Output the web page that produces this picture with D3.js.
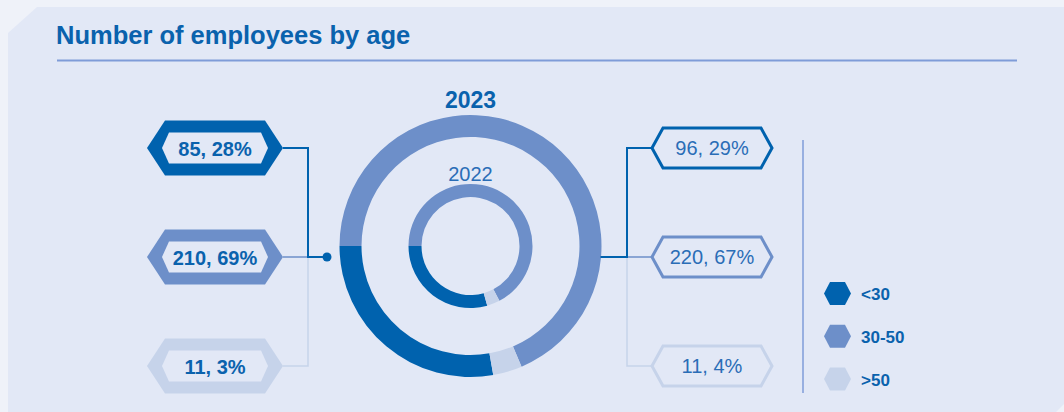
<!DOCTYPE html>
<html>
<head>
<meta charset="utf-8">
<script src="https://cdn.jsdelivr.net/npm/d3@7"></script>
<style>
  body { margin: 0; background: #eff2f9; }
  svg { display: block; font-family: "Liberation Sans", Arial, sans-serif; }
</style>
</head>
<body>
<script>
// Data
const categories = ["<30", "30-50", ">50"];
const values2023 = [85, 210, 11];
const pct2023 = ["28%", "69%", "3%"];
const values2022 = [96, 220, 11];
const pct2022 = ["29%", "67%", "4%"];
const colors = ["#0062ae", "#6d8fc9", "#c6d3ea"];

const width = 1064;
const height = 412;
const panelBg = "#e2e8f6";
const textBlue = "#0a62ad";

const svg = d3.select("body")
  .append("svg")
  .attr("width", width)
  .attr("height", height);

// panel with cut corner
svg.append("path")
  .attr("d", `M8,33 L37,7 L${width},7 L${width},${height - 8} L${width - 8},${height} L8,${height} Z`)
  .attr("fill", panelBg);

// title
svg.append("text")
  .attr("x", 56)
  .attr("y", 44)
  .attr("fill", textBlue)
  .style("font-size", "25.5px")
  .style("font-weight", "bold")
  .text("Number of employees by age");

svg.append("line")
  .attr("x1", 57).attr("x2", 1017)
  .attr("y1", 60.5).attr("y2", 60.5)
  .attr("stroke", "#7f9cd8")
  .attr("stroke-width", 2);

// hexagon path, pointy left/right
function hex(cx, cy, w, h, s) {
  const x0 = cx - w / 2, x1 = cx + w / 2, y0 = cy - h / 2, y1 = cy + h / 2;
  return `M${x0},${cy} L${x0 + s},${y0} L${x1 - s},${y0} L${x1},${cy} L${x1 - s},${y1} L${x0 + s},${y1} Z`;
}

// row positions for the labels
const row = d3.scalePoint().domain(categories).range([148, 366]);
const color = d3.scaleOrdinal().domain(categories).range(colors);

// donuts
const cx = 470.5, cy = 246;
const order = [0, 2, 1]; // counter-clockwise from 9 o'clock: <30, >50, 30-50
const pie = d3.pie()
  .sort((a, b) => order.indexOf(b.i) - order.indexOf(a.i))
  .value(d => d.v)
  .startAngle(-Math.PI / 2)
  .endAngle(Math.PI * 1.5);

function drawRing(vals, rOut, rIn) {
  const data = vals.map((v, i) => ({ v, i }));
  const arc = d3.arc().innerRadius(rIn).outerRadius(rOut);
  svg.append("g")
    .attr("transform", `translate(${cx},${cy})`)
    .selectAll("path")
    .data(pie(data))
    .join("path")
    .attr("d", arc)
    .attr("fill", d => colors[d.data.i]);
}
drawRing(values2023, 131, 109);
drawRing(values2022, 62, 49);

svg.append("text")
  .attr("x", cx).attr("y", 108)
  .attr("text-anchor", "middle")
  .attr("fill", textBlue)
  .style("font-size", "23px")
  .style("font-weight", "bold")
  .text("2023");

svg.append("text")
  .attr("x", cx).attr("y", 181)
  .attr("text-anchor", "middle")
  .attr("fill", "#2a6db6")
  .style("font-size", "20px")
  .text("2022");

// left side (2023)
const leftCx = 215, leftElbow = 308, junction = row("30-50");
const leftLines = svg.append("g").attr("fill", "none");
[2, 1, 0].forEach(i => {
  const c = categories[i];
  leftLines.append("path")
    .attr("d", `M283,${row(c)} H${leftElbow} V${junction} H327`)
    .attr("stroke", colors[i])
    .attr("stroke-width", i === 0 ? 2 : 1.5);
});
svg.append("circle")
  .attr("cx", 327).attr("cy", junction)
  .attr("r", 4.5)
  .attr("fill", colors[0]);

categories.forEach((c, i) => {
  svg.append("path")
    .attr("d", hex(leftCx, row(c), 136, 55, 18))
    .attr("fill", colors[i]);
  svg.append("path")
    .attr("d", hex(leftCx, row(c), 106, 31, 7))
    .attr("fill", panelBg);
  svg.append("text")
    .attr("x", leftCx).attr("y", row(c) + 7.5)
    .attr("text-anchor", "middle")
    .attr("fill", textBlue)
    .style("font-size", "20px")
    .style("font-weight", "bold")
    .text(`${values2023[i]}, ${pct2023[i]}`);
});

// right side (2022)
const rightCx = 712, rightElbow = 627;
const rightLines = svg.append("g").attr("fill", "none");
[2, 1, 0].forEach(i => {
  const c = categories[i];
  rightLines.append("path")
    .attr("d", `M${i === 0 ? cx + 130 : rightElbow},${junction} H${rightElbow} V${row(c)} H652`)
    .attr("stroke", colors[i])
    .attr("stroke-width", i === 0 ? 2 : 1.5);
});

categories.forEach((c, i) => {
  svg.append("path")
    .attr("d", hex(rightCx, row(c), 120, 40, 11))
    .attr("fill", "none")
    .attr("stroke", colors[i])
    .attr("stroke-width", 3);
  svg.append("text")
    .attr("x", rightCx).attr("y", row(c) + 7)
    .attr("text-anchor", "middle")
    .attr("fill", "#2a6db6")
    .style("font-size", "20px")
    .text(`${values2022[i]}, ${pct2022[i]}`);
});

// legend
svg.append("line")
  .attr("x1", 803).attr("x2", 803)
  .attr("y1", 140).attr("y2", 393)
  .attr("stroke", "#7f9cd8")
  .attr("stroke-width", 1.5);

const legendY = d3.scalePoint().domain(categories).range([293.5, 379]);
const legend = svg.append("g")
  .selectAll("g")
  .data(categories)
  .join("g")
  .attr("transform", d => `translate(0,${legendY(d)})`);

legend.append("path")
  .attr("d", hex(837.5, 0, 27, 23, 6))
  .attr("fill", d => color(d));

legend.append("text")
  .attr("x", 861)
  .attr("y", 6.5)
  .attr("fill", textBlue)
  .style("font-size", "17px")
  .style("font-weight", "bold")
  .text(d => d);
</script>
</body>
</html>
